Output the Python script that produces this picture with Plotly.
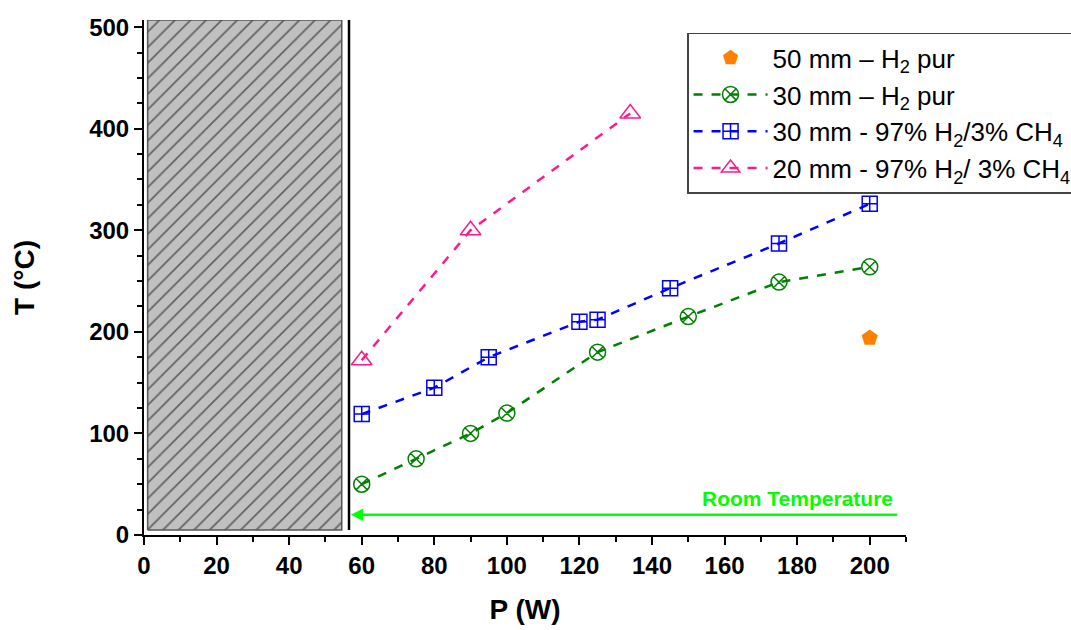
import plotly.graph_objects as go

# Data
p_50_h2 = [200]
t_50_h2 = [194]

p_30_h2 = [60, 75, 90, 100, 125, 150, 175, 200]
t_30_h2 = [50, 75, 100, 120, 180, 215, 249, 264]

p_30_mix = [60, 80, 95, 120, 125, 145, 175, 200]
t_30_mix = [119, 145, 175, 210, 212, 243, 287, 326]

p_20_mix = [60, 90, 134]
t_20_mix = [172, 300, 415]

names = [
    "50 mm \u2013 H<sub>2</sub> pur",
    "30 mm \u2013 H<sub>2</sub> pur",
    "30 mm - 97% H<sub>2</sub>/3% CH<sub>4</sub>",
    "20 mm - 97% H<sub>2</sub>/ 3% CH<sub>4</sub>",
]

# Excluded region and room-temperature reference
hatch_x = [1, 54.5, 54.5, 1, 1]
hatch_y = [5, 5, 507, 507, 5]
limit_p = 56.5
room_t = 20

FONT = "Liberation Sans, Arial, sans-serif"

fig = go.Figure()

fig.add_trace(go.Scatter(
    x=hatch_x, y=hatch_y, mode="lines", fill="toself",
    line=dict(color="#555555", width=1.5),
    fillcolor="#c0c0c0",
    fillpattern=dict(shape="/", bgcolor="#c0c0c0", fgcolor="black", size=11, solidity=0.15),
    showlegend=False, hoverinfo="skip",
))

fig.add_trace(go.Scatter(
    x=p_50_h2, y=t_50_h2, mode="markers", name=names[0],
    marker=dict(symbol="pentagon", size=17, color="#ff8000"),
))
fig.add_trace(go.Scatter(
    x=p_30_h2, y=t_30_h2, mode="lines+markers", name=names[1],
    line=dict(color="#008000", width=2.5, dash="dash"),
    marker=dict(symbol="circle-x-open", size=16, color="#008000", line=dict(width=1.5)),
))
fig.add_trace(go.Scatter(
    x=p_30_mix, y=t_30_mix, mode="lines+markers", name=names[2],
    line=dict(color="#0000ff", width=2.5, dash="dash"),
    marker=dict(symbol="square-cross-open", size=15, color="#0000ff", line=dict(width=1.5)),
))
fig.add_trace(go.Scatter(
    x=p_20_mix, y=t_20_mix, mode="lines+markers", name=names[3],
    line=dict(color="#ff1a8c", width=2.5, dash="dash"),
    marker=dict(symbol="triangle-up-open", size=18, color="#ff1a8c", line=dict(width=1.5)),
))

fig.add_shape(type="line", x0=limit_p, x1=limit_p, y0=5, y1=507,
              line=dict(color="black", width=2.5), xref="x", yref="y")

fig.add_annotation(x=57, y=room_t, ax=208, ay=room_t, xref="x", yref="y",
                   axref="x", ayref="y", showarrow=True, arrowhead=2,
                   arrowsize=1, arrowwidth=2.5, arrowcolor="#00ff00", text="")
fig.add_annotation(x=207, y=room_t + 3, xref="x", yref="y", showarrow=False,
                   text="<b>Room Temperature</b>", xanchor="right", yanchor="bottom",
                   font=dict(family=FONT, size=21, color="#00ff00"))

axis_common = dict(
    showline=True, linecolor="black", linewidth=2, ticks="outside",
    ticklen=8, tickwidth=2, tickcolor="black", showgrid=False, zeroline=False,
    tickfont=dict(family=FONT, size=24, color="black", weight="bold"),
)

fig.update_xaxes(
    range=[0, 210], tickmode="array", tickvals=list(range(0, 201, 20)),
    minor=dict(ticks="outside", ticklen=5, tickwidth=1.5, tickcolor="black", dtick=10, tick0=0),
    title=dict(text="<b>P (W)</b>", font=dict(family=FONT, size=28, color="black"), standoff=22),
    **axis_common,
)
fig.update_yaxes(
    range=[0, 507], tickmode="array", tickvals=list(range(0, 501, 100)),
    minor=dict(ticks="outside", ticklen=5, tickwidth=1.5, tickcolor="black", dtick=25, tick0=0),
    title=dict(text="<b>T (°C)</b>", font=dict(family=FONT, size=28, color="black"), standoff=46),
    **axis_common,
)

fig.update_layout(
    width=1071, height=630,
    margin=dict(l=144, r=165, t=20, b=95, autoexpand=False),
    plot_bgcolor="white", paper_bgcolor="white",
    font=dict(family=FONT, color="black"),
    legend=dict(
        xref="container", yref="container",
        x=0.6415, y=0.948, xanchor="left", yanchor="top",
        bgcolor="white", bordercolor="#444444", borderwidth=1.5,
        font=dict(family=FONT, size=26, color="black"),
        tracegroupgap=0, itemwidth=74,
    ),
)

fig.write_html("out.html", config={"displayModeBar": False},
               post_script="document.body.style.margin='0px';")
